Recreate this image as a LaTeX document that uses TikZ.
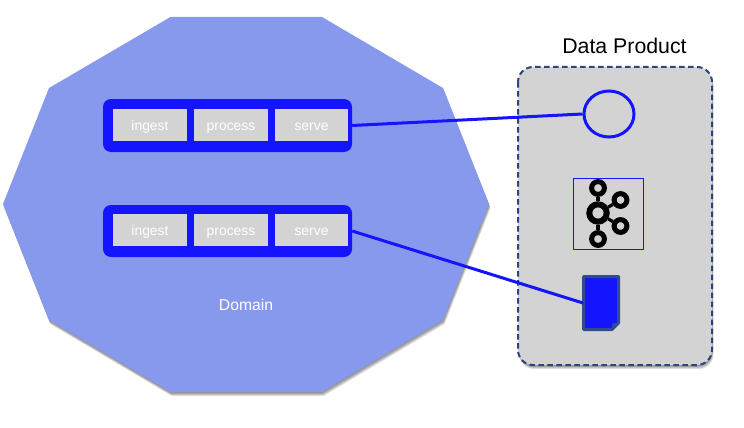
\documentclass[tikz,border=0pt]{standalone}
\usepackage{fontspec}
\usetikzlibrary{shapes.geometric}
\setmainfont{Liberation Sans}
\definecolor{domainblue}{HTML}{8799ED}
\definecolor{vivid}{HTML}{1414FF}
\definecolor{cellgray}{HTML}{D3D3D3}
\definecolor{dashblue}{HTML}{2A4580}
\definecolor{docedge}{HTML}{2F4C8C}
\newcommand{\domainpath}{(170.5,17) -- (322,17) -- (443,88) -- (489,204) -- (443,320) -- (322,392) -- (170.5,392) -- (49,320) -- (3,204) -- (49,88) -- cycle}
\newcommand{\productpath}{[rounded corners=15pt] (518,67) rectangle (712,365)}
\tikzset{
  softshadow/.style={fill=black,opacity=0.1,draw=none},
  pipebar/.style={draw=none,fill=vivid,rounded corners=8pt,minimum width=249pt,minimum height=#1,inner sep=0pt},
  cell/.style={fill=cellgray,text=white,inner sep=0pt,minimum height=32pt,text height=10pt,text depth=0pt,font=\fontsize{13.9}{14}\selectfont},
  link/.style={draw=vivid,line width=3pt},
  ring/.style={circle,draw=black,inner sep=0pt,line width=5pt,minimum size=12.8pt},
  spoke/.style={draw=black,line width=3.2pt},
}
\begin{document}
\begin{tikzpicture}[x=1pt,y=-1pt]
\useasboundingbox (0,0) rectangle (744,428);
% domain polygon with soft shadow
\foreach \dx/\dy in {0.3/1,0.6/1.8,0.9/2.6,1.2/3.4,1.5/4.2}{
  \path[softshadow,shift={(\dx,\dy)}] \domainpath;
}
\fill[domainblue] \domainpath;
\node[text=white,font=\fontsize{15.7}{16}\selectfont] (domain) at (246,305) {Domain};
% pipeline bars
\node[pipebar=53pt] (bara) at (227.5,125.5) {};
\node[pipebar=52pt] (barb) at (227.5,231) {};
\node[cell,minimum width=74pt] (inga) at (150,125) {ingest};
\node[cell,minimum width=74pt] (proa) at (231,125) {process};
\node[cell,minimum width=73pt] (sera) at (311.5,125) {serve};
\node[cell,minimum width=74pt] (ingb) at (150,230) {ingest};
\node[cell,minimum width=74pt] (prob) at (231,230) {process};
\node[cell,minimum width=73pt] (serb) at (311.5,230) {serve};
% data product panel
\node[font=\fontsize{21.3}{22}\selectfont,text=black] (title) at (624.5,46) {Data Product};
\foreach \dx/\dy in {0.3/1,0.6/1.8,0.9/2.6,1.2/3.4,1.5/4.2}{
  \path[softshadow,shift={(\dx,\dy)}] \productpath;
}
\fill[cellgray] \productpath;
\draw[dashblue,line width=2pt,dash pattern=on 5.5pt off 3.5pt] \productpath;
% circle
\node[ellipse,draw=vivid,line width=3pt,minimum width=50pt,minimum height=46pt,inner sep=0pt] (port) at (609,114) {};
% kafka icon
\node[draw=vivid,line width=1pt,minimum width=70pt,minimum height=71pt,inner sep=0pt] (kafkabox) at (608,213.5) {};
\node[circle,draw=black,inner sep=0pt,line width=6pt,minimum size=17.4pt] (khub) at (598,213) {};
\node[ring] (ktop) at (598,188) {};
\node[ring] (kbot) at (598,239) {};
\node[ring] (kup) at (620.5,200) {};
\node[ring] (kdn) at (620.5,226) {};
\draw[spoke] (khub) -- (ktop);
\draw[spoke] (khub) -- (kbot);
\draw[spoke] (khub) -- (kup);
\draw[spoke] (khub) -- (kdn);
% document icon
\coordinate (docin) at (583,303);
\draw[docedge,fill=vivid,line width=3pt,line join=round] (583.5,276.5) -- (618.5,276.5) -- (618.5,323) -- (612,329.5) -- (583.5,329.5) -- cycle;
\fill[docedge] (612,329.5) -- (612,325) .. controls (612,323.5) and (613,323) .. (614,323) -- (618.5,323) -- cycle;
% connectors
\draw[link] (bara.east) -- (port.west);
\draw[link] (barb.east) -- (docin);
\end{tikzpicture}
\end{document}
